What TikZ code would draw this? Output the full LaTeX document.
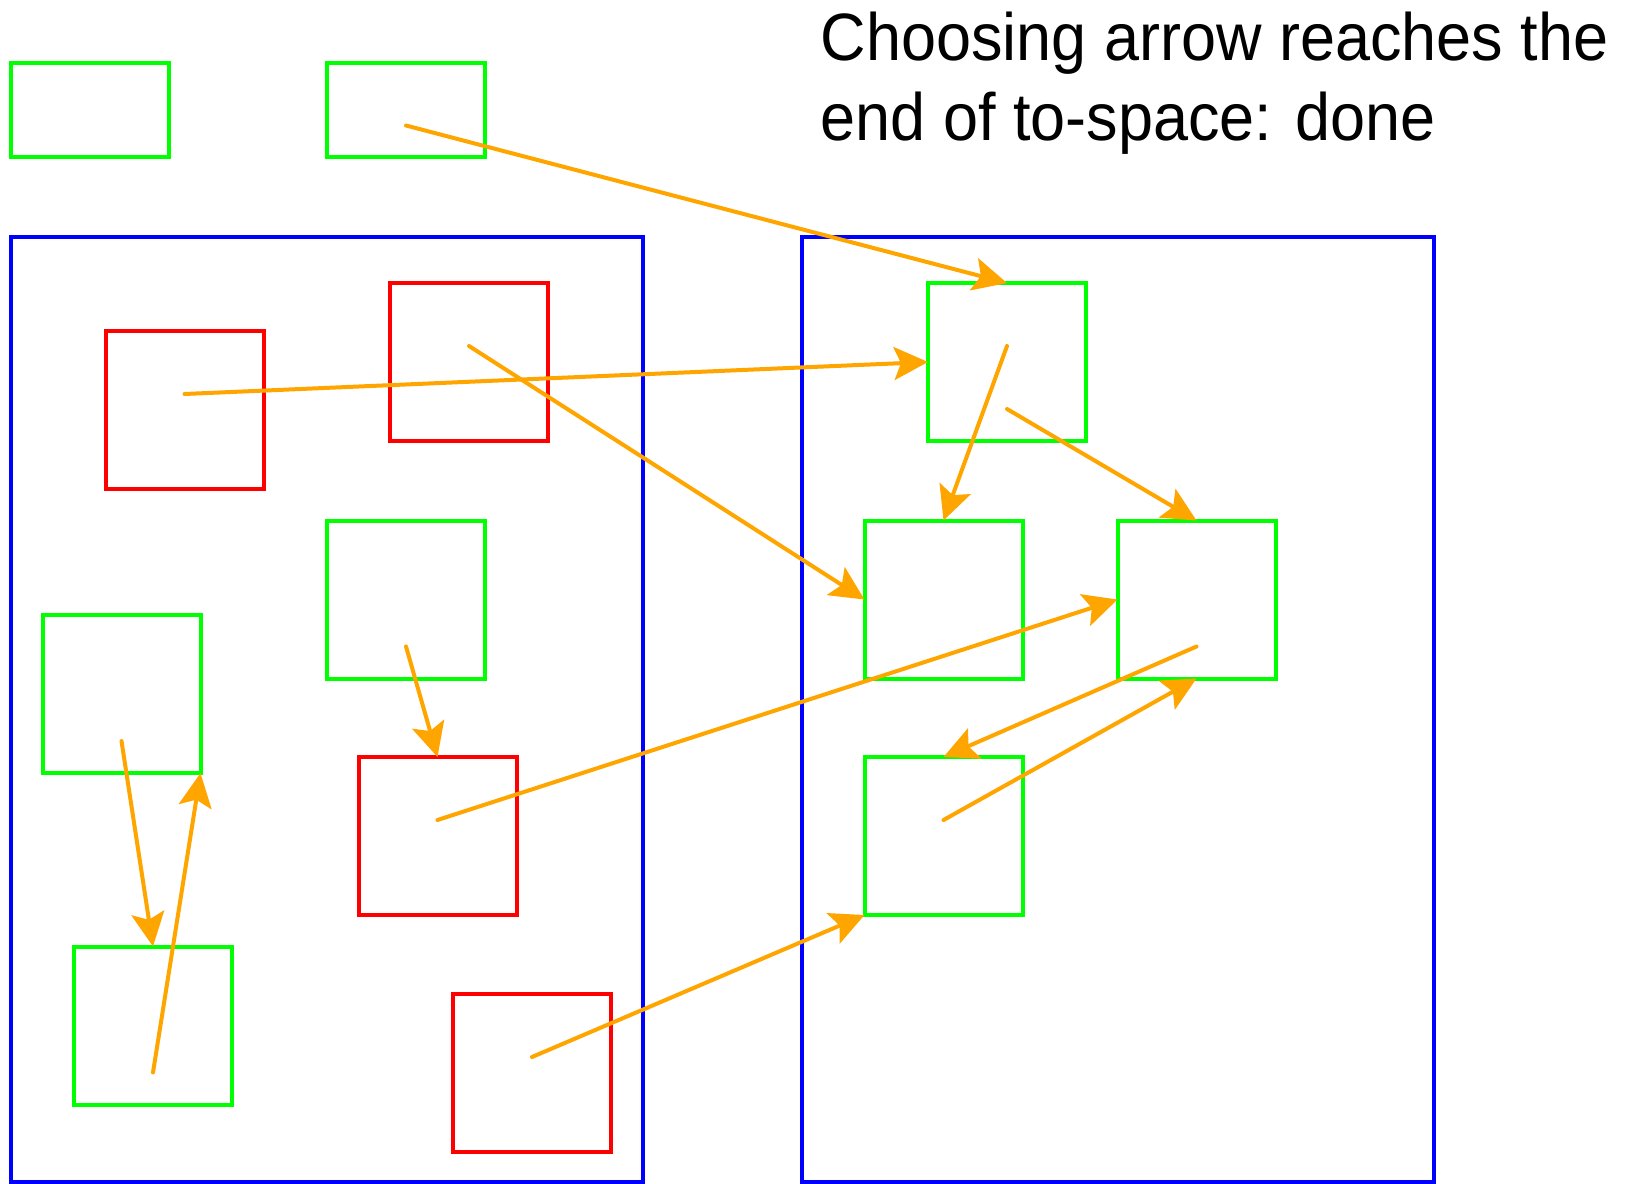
\documentclass[tikz,border=0pt]{standalone}
\usepackage{fontspec}
\setmainfont{Liberation Sans}
\newfontfamily\capfont[FakeStretch=0.94]{Liberation Sans}
\usetikzlibrary{arrows.meta,calc}
\definecolor{gobj}{RGB}{0,255,0}
\definecolor{robj}{RGB}{255,0,0}
\definecolor{bspace}{RGB}{0,0,255}
\definecolor{ptr}{RGB}{255,165,0}
\begin{document}
\begin{tikzpicture}[x=1pt,y=-1pt,
  obj/.style={draw, line width=4pt, inner sep=0pt, outer sep=0pt, minimum width=158pt, minimum height=158pt},
  live/.style={obj, draw=gobj},
  dead/.style={obj, draw=robj},
  root/.style={live, minimum height=94pt},
  space/.style={draw=bspace, line width=4pt},
  ptrarrow/.style={draw=ptr, line width=4pt, line cap=round, -{Stealth[length=34pt,width=33pt,inset=7pt]}},
  caption/.style={anchor=base west, inner sep=0pt, font=\capfont\fontsize{67}{80}\selectfont}]
\useasboundingbox (0,0) rectangle (1635,1183);
% spaces
\draw[space] (11,236.7) rectangle (643,1181.5);
\draw[space] (802,236.7) rectangle (1434,1181.5);
% roots
\node[root] (A) at (89.7,109.5) {};
\node[root] (B) at (406,109.5) {};
% from-space
\node[dead] (R1) at (184.5,410) {};
\node[dead] (R2) at (469,362) {};
\node[live] (G1) at (406,599.5) {};
\node[live] (G2) at (121.5,694) {};
\node[dead] (R3) at (437.5,836) {};
\node[live] (G3) at (153,1025.5) {};
\node[dead] (R4) at (532,1073) {};
% to-space
\node[live] (T1) at (1007,362) {};
\node[live] (T2) at (943.5,599.5) {};
\node[live] (T3) at (1196.5,599.5) {};
\node[live] (T4) at (943.5,836) {};
% field coordinates
\coordinate (Bf) at ($(B.north)+(0,63)$);
\coordinate (R1f) at ($(R1.north)+(0,63)$);
\coordinate (R2f) at ($(R2.north)+(0,63)$);
\coordinate (T1a) at ($(T1.north)+(0,63)$);
\coordinate (T1b) at ($(T1.north)+(0,126)$);
\coordinate (G1f) at ($(G1.north)+(0,126)$);
\coordinate (R3f) at ($(R3.north)+(0,63)$);
\coordinate (T3f) at ($(T3.north)+(0,126)$);
\coordinate (T4f) at ($(T4.north)+(0,63)$);
\coordinate (G2f) at ($(G2.north)+(0,126)$);
\coordinate (G3f) at ($(G3.north)+(0,126)$);
\coordinate (R4f) at ($(R4.north)+(0,63)$);
% pointers
\draw[ptrarrow] (Bf) -- (T1.north);
\draw[ptrarrow] (R1f) -- (T1.west);
\draw[ptrarrow] (R2f) -- (T2.west);
\draw[ptrarrow] (T1a) -- (T2.north);
\draw[ptrarrow] (T1b) -- (T3.north);
\draw[ptrarrow] (G1f) -- (R3.north);
\draw[ptrarrow] (R3f) -- (T3.west);
\draw[ptrarrow] (T3f) -- (T4.north);
\draw[ptrarrow] (T4f) -- (T3.south);
\draw[ptrarrow] (G2f) -- (G3.north);
\draw[ptrarrow] (G3f) -- (G2.south east);
\draw[ptrarrow] (R4f) -- (T4.south west);
% caption
\node[caption] (cap1) at (820.6,60.5) {Choosing arrow reaches the};
\node[caption] (cap2) at (820.6,140.8) {end of to-space: done};
\end{tikzpicture}
\end{document}
